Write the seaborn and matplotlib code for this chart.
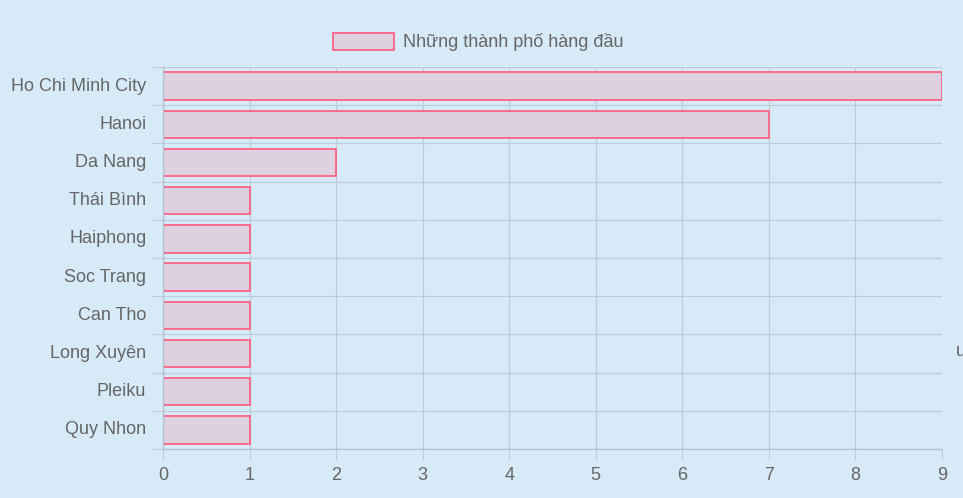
import numpy as np
import matplotlib
matplotlib.use('Agg')
import matplotlib.pyplot as plt
import seaborn as sns
from matplotlib.patches import Patch

# chart data
cities = ['Ho Chi Minh City', 'Hanoi', 'Da Nang', 'Thái Bình', 'Haiphong',
          'Soc Trang', 'Can Tho', 'Long Xuyên', 'Pleiku', 'Quy Nhon']
counts = [9, 7, 2, 1, 1, 1, 1, 1, 1, 1]
x_ticks = list(range(0, 10))
legend_label = 'Những thành phố hàng đầu'

bg = '#d6eaf8'
bar_fill = '#decfe1'
bar_edge = '#ff6384'
grid_col = '#bccdd9'
axis_col = '#b0c1cd'
text_col = '#666666'

sns.set_theme(style='white')
plt.rcParams['font.family'] = ['Liberation Sans', 'DejaVu Sans']
plt.rcParams['text.color'] = text_col

fig = plt.figure(figsize=(9.63, 4.98), dpi=100, facecolor=bg)
ax = fig.add_axes([163 / 963, 1 - 449 / 498, (942 - 163) / 963, (449 - 67) / 498])
ax.set_facecolor(bg)

sns.barplot(x=counts, y=cities, orient='h', width=0.72, color=bar_fill,
            saturation=1, edgecolor=bar_edge, linewidth=1.3, ax=ax)

ax.set_xlim(0, 9)
ax.set_ylim(len(cities) - 0.5, -0.5)
ax.set_xticks(x_ticks)
ax.set_yticks(np.arange(-0.5, len(cities), 1), minor=True)
ax.set_axisbelow(True)
ax.grid(axis='x', which='major', color=grid_col, linewidth=0.9, alpha=1)
ax.grid(axis='y', which='minor', color=grid_col, linewidth=0.9, alpha=1)
ax.grid(axis='y', which='major', visible=False)

ax.tick_params(axis='x', which='major', length=8, width=0.8, color=grid_col,
               pad=5, labelsize=13, labelcolor=text_col, bottom=True)
ax.tick_params(axis='y', which='major', length=0, pad=12,
               labelsize=13, labelcolor=text_col)
ax.tick_params(axis='y', which='minor', length=8, width=0.8, color=grid_col, left=True)
# centre the category labels on the bars
for lab in ax.get_yticklabels():
    lab.set_verticalalignment('center')

for side in ['top', 'right']:
    ax.spines[side].set_visible(False)
for side in ['left', 'bottom']:
    ax.spines[side].set_color(axis_col)
    ax.spines[side].set_linewidth(0.9)
ax.set_xlabel('')
ax.set_ylabel('')

handle = Patch(facecolor=bar_fill, edgecolor=bar_edge, linewidth=1.3)
fig.legend([handle], [legend_label], loc='center', bbox_to_anchor=(478 / 963, 1 - 42 / 498),
           frameon=False, fontsize=13, handlelength=3.4, handleheight=1.1,
           handletextpad=0.5, labelcolor=text_col)

# clipped text at the right edge of the original
fig.text(956 / 963, 1 - 351 / 498, 'u', fontsize=13, color=text_col, ha='left', va='center')

fig.savefig('out.png', dpi=100, facecolor=bg)
